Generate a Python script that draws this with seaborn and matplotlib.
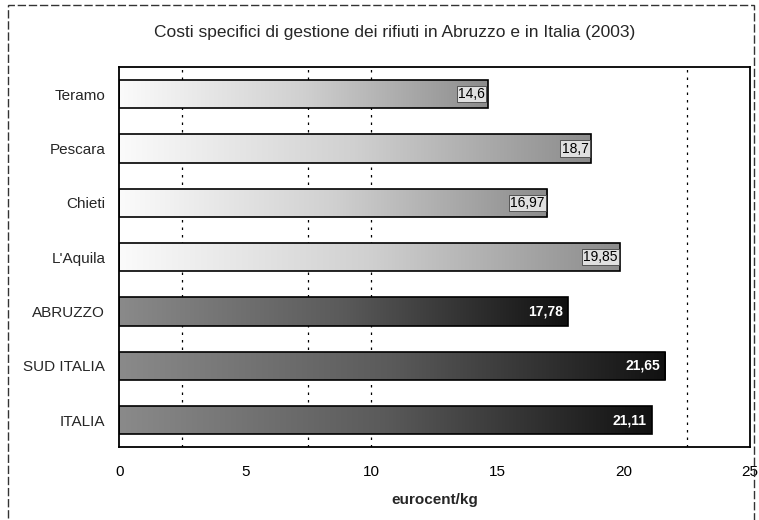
import numpy as np
import pandas as pd
import matplotlib
matplotlib.use("Agg")
import matplotlib.pyplot as plt
from matplotlib.patches import Rectangle
import seaborn as sns

# data
regions = ["Teramo", "Pescara", "Chieti", "L'Aquila", "ABRUZZO", "SUD ITALIA", "ITALIA"]
costs = [14.6, 18.7, 16.97, 19.85, 17.78, 21.65, 21.11]
labels = ["14,6", "18,7", "16,97", "19,85", "17,78", "21,65", "21,11"]
aggregate = [False, False, False, False, True, True, True]
grid_x = [2.5, 7.5, 10, 22.5]
x_ticks = [0, 5, 10, 15, 20, 25]

sns.set_theme(style="white")
plt.rcParams['font.family'] = ['Liberation Sans', 'DejaVu Sans']

df = pd.DataFrame({"region": regions, "cost": costs})

fig = plt.figure(figsize=(7.59, 5.20), dpi=100)
ax = fig.add_axes([0.157, 0.140, 0.831, 0.731])

sns.barplot(data=df, y="region", x="cost", orient="h", width=0.52,
            color="white", edgecolor="black", linewidth=1.2, ax=ax, zorder=3)

# dashed gridlines (only a few survive in the original)
for gx in grid_x:
    ax.axvline(gx, color="black", linestyle=(0, (2, 4)), linewidth=0.9, zorder=1)

# gradient fill inside each bar
ramp = np.linspace(0, 1, 256).reshape(1, -1)
for patch, agg in zip(ax.patches, aggregate):
    x0, y0 = patch.get_x(), patch.get_y()
    w, h = patch.get_width(), patch.get_height()
    if agg:
        cmap = matplotlib.colors.LinearSegmentedColormap.from_list(
            "dk", ["#8a8a8a", "#5a5a5a", "#111111"])
    else:
        cmap = matplotlib.colors.LinearSegmentedColormap.from_list(
            "lt", ["#fbfbfb", "#d0d0d0", "#8c8c8c"])
    im = ax.imshow(ramp, cmap=cmap, aspect="auto", extent=(x0, x0 + w, y0 + h, y0),
                   zorder=2.5, interpolation="bilinear")
    im.set_clip_path(patch)
    patch.set_facecolor("none")

ax.set_xlim(0, 25)
ax.set_ylim(len(regions) - 0.5, -0.5)

# value labels at the end of each bar
for i, (v, lab, agg) in enumerate(zip(costs, labels, aggregate)):
    if agg:
        ax.text(v - 0.2, i, lab, ha="right", va="center", fontsize=10,
                fontweight="bold", color="white", zorder=5)
    else:
        ax.text(v - 0.1, i, lab, ha="right", va="center", fontsize=10,
                color="black", zorder=5,
                bbox=dict(boxstyle="square,pad=0.08", fc="#e0e0e0", ec="#444444", lw=0.6))

ax.set_xticks(x_ticks)
ax.set_xticklabels([str(t) for t in x_ticks], fontsize=11)
ax.tick_params(axis="x", length=3, width=1, direction="out", pad=10, colors="black")
ax.tick_params(axis="y", which="major", length=0, pad=10, labelsize=11)
ax.set_yticks(np.arange(len(regions) - 1) + 0.5, minor=True)
ax.tick_params(axis="y", which="minor", length=4, width=1, direction="out")
ax.set_ylabel("")
ax.set_xlabel("eurocent/kg", fontsize=11, fontweight="bold", labelpad=10)

for s in ax.spines.values():
    s.set_visible(True)
    s.set_color("black")
    s.set_linewidth(1.3)

fig.text(0.52, 0.937, "Costi specifici di gestione dei rifiuti in Abruzzo e in Italia (2003)",
         ha="center", va="center", fontsize=12.5)

# outer chart border
fig.patches.append(Rectangle((0.011, -0.05), 0.983, 1.04, transform=fig.transFigure,
                             fill=False, edgecolor="#333333", linewidth=1,
                             linestyle=(0, (6, 2))))

fig.savefig("out.png", dpi=100)
